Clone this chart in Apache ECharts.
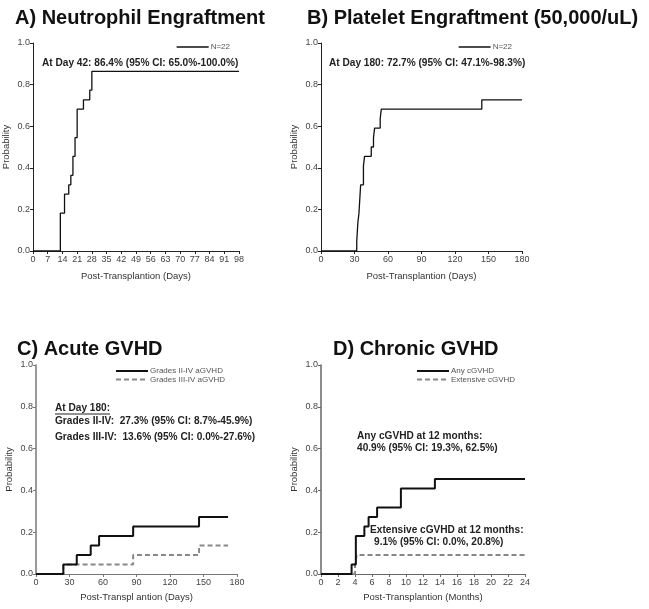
<!DOCTYPE html>
<html><head><meta charset="utf-8">
<script src="https://cdn.jsdelivr.net/npm/echarts@6/dist/echarts.min.js"></script>
<style>html,body{margin:0;padding:0;background:#fff}#c{width:649px;height:609px}</style>
</head><body><div id="c"></div>
<script>
// ---- data ----
const yTicks = [0, 0.2, 0.4, 0.6, 0.8, 1.0];
const ticksA = [0, 7, 14, 21, 28, 35, 42, 49, 56, 63, 70, 77, 84, 91, 98];
const ticksB = [0, 30, 60, 90, 120, 150, 180];
const ticksC = [0, 30, 60, 90, 120, 150, 180];
const ticksD = [0, 2, 4, 6, 8, 10, 12, 14, 16, 18, 20, 22, 24];

const neutroDays = [0, 13, 15, 17, 18, 19, 20, 21, 24, 27, 28, 98];
const neutroProb = [0, 0.182, 0.273, 0.318, 0.364, 0.455, 0.545, 0.682, 0.727, 0.773, 0.864, 0.864];

const plateDays = [0, 32, 33, 34, 35.5, 38, 39, 45, 47, 48, 53, 54, 144, 180];
const plateProb = [0, 0.045, 0.136, 0.182, 0.318, 0.409, 0.455, 0.5, 0.545, 0.591, 0.636, 0.682, 0.727, 0.727];

const aDaysII = [0, 24.5, 36.5, 49, 56.5, 87, 146, 172];
const aProbII = [0, 0.045, 0.091, 0.136, 0.182, 0.227, 0.273, 0.273];
const aDaysIII = [0, 24.5, 87, 146, 172];
const aProbIII = [0, 0.045, 0.091, 0.136, 0.136];

const cMonthsAny = [0, 3.6, 4.1, 5.1, 5.6, 6.6, 9.4, 13.4, 24];
const cProbAny = [0, 0.045, 0.182, 0.227, 0.273, 0.318, 0.409, 0.455, 0.455];
const cMonthsExt = [0, 4.0, 4.2, 24];
const cProbExt = [0, 0.045, 0.091, 0.091];

const titles = ['A) Neutrophil Engraftment', 'B) Platelet Engraftment (50,000/uL)', 'C) Acute GVHD', 'D) Chronic GVHD'];
const seriesNames = ['N=22', 'N=22 ', 'Grades II-IV aGVHD', 'Grades III-IV aGVHD', 'Any cGVHD', 'Extensive cGVHD'];
const yName = 'Probability';
const xNames = ['Post-Transplantion (Days)', 'Post-Transplantion (Days)', 'Post-Transpl antion (Days)', 'Post-Transplantion (Months)'];
const notes = {
  A: 'At Day 42: 86.4% (95% CI: 65.0%-100.0%)',
  B: 'At Day 180: 72.7% (95% CI: 47.1%-98.3%)',
  C0: 'At Day 180:',
  C1: 'Grades II-IV:  27.3% (95% CI: 8.7%-45.9%)',
  C2: 'Grades III-IV:  13.6% (95% CI: 0.0%-27.6%)',
  D0: 'Any cGVHD at 12 months:',
  D1: '40.9% (95% CI: 19.3%, 62.5%)',
  D2: 'Extensive cGVHD at 12 months:',
  D3: '9.1% (95% CI: 0.0%, 20.8%)'
};

// ---- build ----
const zip = (xs, ys) => xs.map((x, i) => [x, ys[i]]);
const FONT = 'Liberation Sans, Arial, sans-serif';

const grids = [
  {left: 33, top: 43, width: 206, height: 208},
  {left: 321, top: 43, width: 201, height: 208},
  {left: 36, top: 365, width: 201, height: 209},
  {left: 321, top: 365, width: 204, height: 209}
];
const xTickSets = [ticksA, ticksB, ticksC, ticksD];
const axisColors = ['#222', '#222', '#777', '#666'];

const xAxis = grids.map((g, i) => {
  const t = xTickSets[i];
  return {
    type: 'value', gridIndex: i, min: t[0], max: t[t.length - 1], interval: t[1] - t[0],
    name: xNames[i], nameLocation: 'middle', nameGap: i < 2 ? 20 : 18,
    nameTextStyle: {fontFamily: FONT, fontSize: 9.5, color: '#333'},
    axisLine: {show: true, onZero: false, lineStyle: {color: axisColors[i], width: 1}},
    axisTick: {show: true, length: 3, lineStyle: {color: axisColors[i]}},
    axisLabel: {fontFamily: FONT, fontSize: 9, color: '#444', margin: 4},
    splitLine: {show: false}
  };
});
const yAxis = grids.map((g, i) => ({
  type: 'value', gridIndex: i, min: yTicks[0], max: yTicks[yTicks.length - 1], interval: yTicks[1] - yTicks[0],
  name: yName, nameLocation: 'middle', nameGap: 22, nameRotate: 90,
  nameTextStyle: {fontFamily: FONT, fontSize: 9.5, color: '#333'},
  axisLine: {show: true, lineStyle: {color: axisColors[i], width: i < 2 ? 1 : 1.5}},
  axisTick: {show: true, length: 3, lineStyle: {color: axisColors[i]}},
  axisLabel: {fontFamily: FONT, fontSize: 9, color: '#444', margin: 3, formatter: v => v.toFixed(1)},
  splitLine: {show: false}
}));

const solid = (w) => ({color: '#111', width: w, type: 'solid'});
const dashed = {color: '#888', width: 2, type: [5, 3]};
const mk = (name, idx, data, ls) => ({
  name, type: 'line', xAxisIndex: idx, yAxisIndex: idx, data, step: 'end',
  symbol: 'none', lineStyle: ls, itemStyle: {color: ls.color}, animation: false, silent: true
});
const series = [
  mk(seriesNames[0], 0, zip(neutroDays, neutroProb), solid(1.3)),
  mk(seriesNames[1], 1, zip(plateDays, plateProb), solid(1.3)),
  mk(seriesNames[3], 2, zip(aDaysIII, aProbIII), dashed),
  mk(seriesNames[2], 2, zip(aDaysII, aProbII), solid(2)),
  mk(seriesNames[5], 3, zip(cMonthsExt, cProbExt), dashed),
  mk(seriesNames[4], 3, zip(cMonthsAny, cProbAny), solid(2))
];

const legBase = {orient: 'vertical', itemWidth: 32, itemHeight: 10, itemGap: 0.5, padding: 0,
  itemStyle: {opacity: 0, borderWidth: 0},
  textStyle: {fontFamily: FONT, fontSize: 8, color: '#555', padding: [0, 0, 0, -3]}, selectedMode: false};
const legend = [
  Object.assign({}, legBase, {data: [seriesNames[0]], left: 176, top: 43, lineStyle: {width: 1.3}}),
  Object.assign({}, legBase, {data: [seriesNames[1]], left: 458, top: 43, lineStyle: {width: 1.3}, formatter: n => n.trim()}),
  Object.assign({}, legBase, {data: [seriesNames[2], seriesNames[3]], left: 115, top: 367}),
  Object.assign({}, legBase, {data: [seriesNames[4], seriesNames[5]], left: 416, top: 367})
];

const titlePos = [[15, 8], [307, 8], [17, 339], [333, 339]];
const title = titles.map((t, i) => ({
  text: t, left: titlePos[i][0], top: titlePos[i][1], padding: 0,
  textStyle: {fontFamily: FONT, fontSize: 20, fontWeight: 'bold', color: '#111'}
}));

const txt = (x, y, s) => ({type: 'text', x: x, y: y, scaleX: 0.92, silent: true,
  style: {text: s, fontFamily: FONT, fontSize: 11, fontWeight: 'bold', fill: '#222'}});
const graphic = [
  txt(42, 57, notes.A),
  txt(329, 57, notes.B),
  txt(55, 402, notes.C0),
  {type: 'line', silent: true, shape: {x1: 55, y1: 414, x2: 110, y2: 414}, style: {stroke: '#222', lineWidth: 1}},
  txt(55, 415, notes.C1),
  txt(55, 431, notes.C2),
  txt(357, 430, notes.D0),
  txt(357, 442, notes.D1),
  txt(370, 524, notes.D2),
  txt(374, 536, notes.D3)
];

const chart = echarts.init(document.getElementById('c'), null, {renderer: 'canvas'});
chart.setOption({
  animation: false, backgroundColor: '#fff',
  title, legend, grid: grids.map(g => Object.assign({containLabel: false}, g)),
  xAxis, yAxis, series, graphic
});
</script></body></html>
